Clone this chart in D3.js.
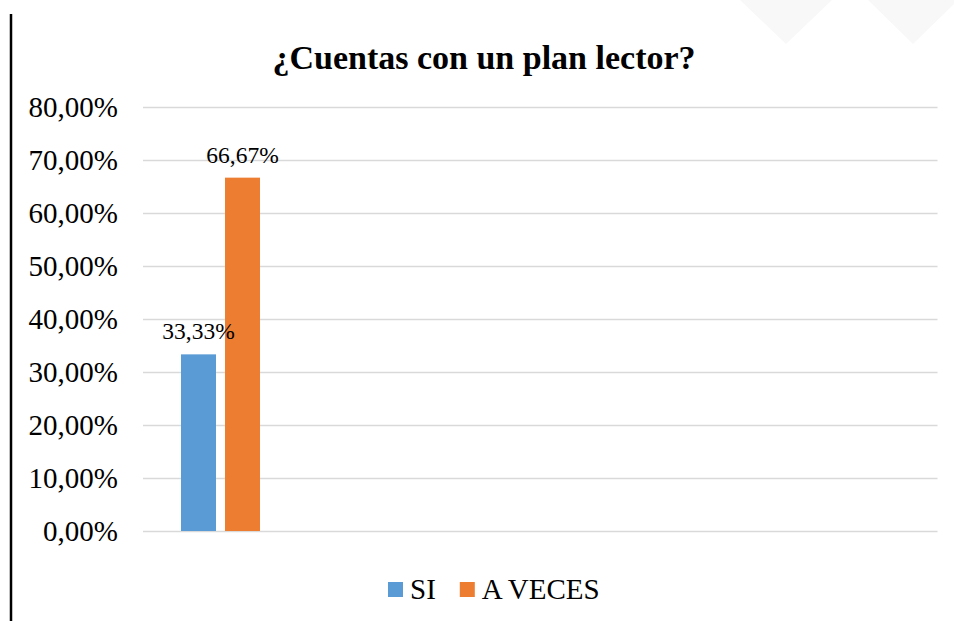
<!DOCTYPE html>
<html>
<head>
<meta charset="utf-8">
<script src="https://cdn.jsdelivr.net/npm/d3@7"></script>
<style>
  html, body { margin: 0; padding: 0; background: #ffffff; }
  svg { display: block; }
</style>
</head>
<body>
<svg id="chart" width="954" height="621"></svg>
<script>
// ---- data ----
const title = "¿Cuentas con un plan lector?";
const categories = ["¿Cuentas con un plan lector?"];
const seriesNames = ["SI", "A VECES"];
const seriesValues = [[0.3333], [0.6667]];
const seriesLabels = [["33,33%"], ["66,67%"]];
const seriesColors = ["#5B9BD5", "#ED7D31"];
const yTicks = [0, 0.1, 0.2, 0.3, 0.4, 0.5, 0.6, 0.7, 0.8];
const categorySlots = 5; // plot width holds room for 5 category groups

const svg = d3.select("#chart");
const W = 954, H = 621;
const plot = { left: 143, right: 937.5, top: 107, bottom: 531 };
const FONT = "Liberation Serif";

// faint decoration at the top right
const deco = svg.append("g").attr("fill", "#f8f8f8");
deco.append("path").attr("d", "M740,0 L832,0 L786,44 Z");
deco.append("path").attr("d", "M868,0 L958,0 L913,44 Z");

// left border line
svg.append("line")
  .attr("x1", 11).attr("x2", 11).attr("y1", 14).attr("y2", H)
  .attr("stroke", "#000").attr("stroke-width", 2.5);

const locale = d3.formatLocale({ decimal: ",", thousands: ".", grouping: [3], currency: ["", "€"] });
const fmt = locale.format(".2%");

const y = d3.scaleLinear().domain([0, 0.8]).range([plot.bottom, plot.top]);
const xOuter = d3.scaleBand()
  .domain(d3.range(categorySlots))
  .range([plot.left, plot.right])
  .paddingInner(0).paddingOuter(0);
const xInner = d3.scaleBand()
  .domain(seriesNames)
  .range([0, 79])
  .paddingInner(9 / 44);

// gridlines + tick labels
const yAxis = d3.axisLeft(y)
  .tickValues(yTicks)
  .tickSize(-(plot.right - plot.left))
  .tickFormat(d => fmt(d));
const gy = svg.append("g")
  .attr("transform", `translate(${plot.left},0)`)
  .call(yAxis)
  .attr("font-family", FONT)
  .attr("font-size", 29);
gy.select(".domain").remove();
gy.selectAll(".tick line").attr("stroke", "#D9D9D9").attr("stroke-width", 1.5);
gy.selectAll(".tick text")
  .attr("x", -25)
  .attr("dy", "0.34em")
  .attr("fill", "#000")
  .attr("font-family", FONT)
  .attr("font-size", 29);

// bars
const groupOffset = 38;
seriesNames.forEach((name, si) => {
  svg.append("g").selectAll("rect")
    .data(seriesValues[si])
    .join("rect")
    .attr("x", (d, i) => xOuter(i) + groupOffset + xInner(name))
    .attr("width", xInner.bandwidth())
    .attr("y", d => y(d))
    .attr("height", d => y(0) - y(d))
    .attr("fill", seriesColors[si]);
});

// data labels
seriesNames.forEach((name, si) => {
  svg.append("g").selectAll("text")
    .data(seriesValues[si])
    .join("text")
    .attr("x", (d, i) => xOuter(i) + groupOffset + xInner(name) + xInner.bandwidth() / 2)
    .attr("y", d => y(d) - 15)
    .attr("text-anchor", "middle")
    .attr("font-family", FONT)
    .attr("font-size", 23.5)
    .attr("fill", "#000")
    .text((d, i) => seriesLabels[si][i]);
});

// title
svg.append("text")
  .attr("x", 484)
  .attr("y", 69)
  .attr("text-anchor", "middle")
  .attr("font-family", FONT)
  .attr("font-size", 34)
  .attr("font-weight", "bold")
  .attr("fill", "#000")
  .text(title);

// legend
const legend = svg.append("g").attr("transform", "translate(388,0)");
let lx = 0;
seriesNames.forEach((name, si) => {
  const item = legend.append("g").attr("transform", `translate(${lx},0)`);
  item.append("rect")
    .attr("x", 0).attr("y", 582).attr("width", 15).attr("height", 15)
    .attr("fill", seriesColors[si]);
  const t = item.append("text")
    .attr("x", 22).attr("y", 599)
    .attr("font-family", FONT)
    .attr("font-size", 29)
    .attr("fill", "#000")
    .text(name);
  lx += 22 + t.node().getComputedTextLength() + 24;
});
</script>
</body>
</html>
